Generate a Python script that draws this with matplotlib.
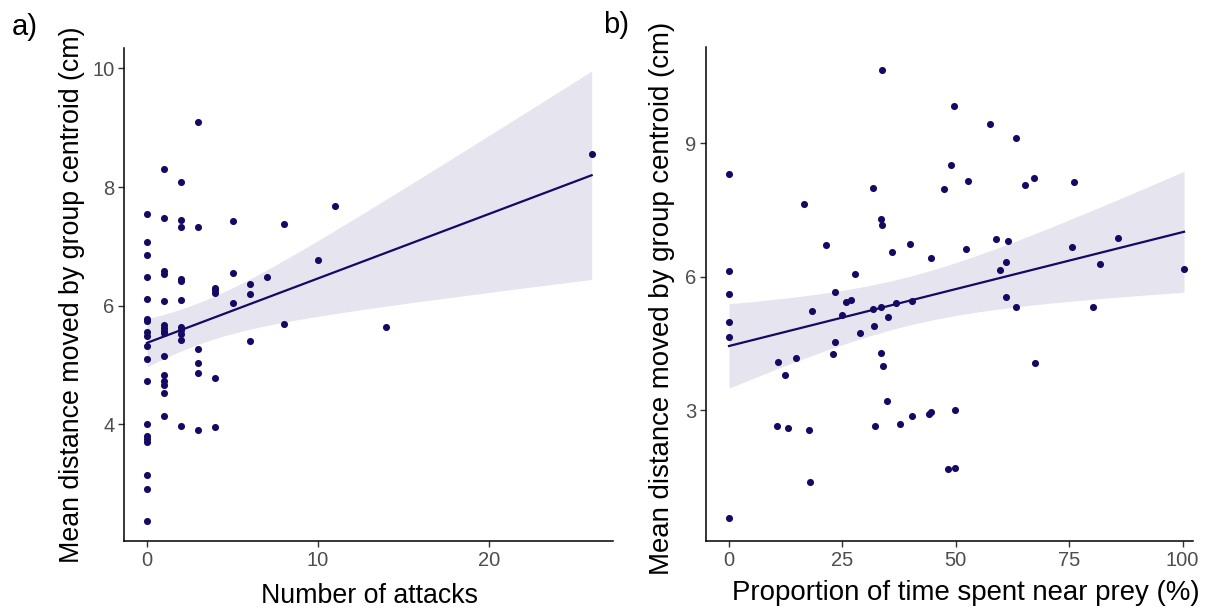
import numpy as np
import matplotlib
matplotlib.use("Agg")
import matplotlib.pyplot as plt

plt.rcParams['font.family'] = ['Liberation Sans', 'DejaVu Sans']

# ---- Panel a data: number of attacks vs mean distance ----
attacks_x = [0]*19 + [1]*15 + [2]*11 + [3]*6 + [4]*5 + [5]*3 + [6]*3 + [7] + [8]*2 + [10] + [11] + [14] + [26]
attacks_y = [7.54, 7.08, 6.86, 6.48, 6.11, 5.78, 5.75, 5.55, 5.49, 5.32, 5.10, 4.73, 4.01, 3.80, 3.76, 3.71, 3.15, 2.92, 2.38,
             8.30, 7.48, 6.59, 6.54, 6.08, 5.67, 5.63, 5.58, 5.54, 5.16, 4.84, 4.73, 4.67, 4.53, 4.15,
             8.08, 7.44, 7.32, 6.45, 6.41, 6.10, 5.64, 5.59, 5.53, 5.42, 3.98,
             9.10, 7.33, 5.27, 5.03, 4.86, 3.91,
             6.30, 6.26, 6.22, 4.78, 3.95,
             7.43, 6.56, 6.05,
             6.37, 6.20, 5.41,
             6.49,
             7.38, 5.70,
             6.77,
             7.68,
             5.64,
             8.56]

# ---- Panel b data: proportion of time near prey vs mean distance ----
prop_x = [33.7, 0, 31.75, 16.6, 33.4, 33.7, 21.4, 36.0, 0, 27.85,
          0, 0, 0, 0, 23.4, 25.8, 26.9, 18.2, 24.8, 31.8,
          33.5, 36.9, 35.1, 28.8, 31.9, 23.4, 23.0, 10.7, 14.8, 12.3,
          33.5, 34.0, 34.9, 10.65, 13.0, 17.6, 32.1, 37.6, 17.9, 49.5,
          57.5, 63.3, 49.0, 47.3, 52.6, 65.3, 67.2, 76.1, 40.0, 44.5,
          52.3, 58.9, 61.6, 61.1, 59.8, 75.5, 85.8, 81.8, 100.3, 40.4,
          61.1, 63.2, 80.3, 67.4, 40.4, 44.1, 44.6, 49.8, 48.3, 49.9]
prop_y = [10.65, 8.31, 7.99, 7.63, 7.29, 7.16, 6.72, 6.55, 6.12, 6.07,
          5.61, 4.97, 4.64, 0.56, 5.66, 5.43, 5.48, 5.23, 5.14, 5.28,
          5.31, 5.41, 5.10, 4.73, 4.89, 4.53, 4.26, 4.08, 4.17, 3.79,
          4.28, 4.00, 3.21, 2.63, 2.59, 2.54, 2.64, 2.69, 1.37, 9.84,
          9.44, 9.13, 8.52, 7.98, 8.15, 8.06, 8.22, 8.14, 6.73, 6.43,
          6.62, 6.84, 6.80, 6.33, 6.14, 6.66, 6.86, 6.29, 6.17, 5.45,
          5.54, 5.31, 5.31, 4.06, 2.87, 2.91, 2.95, 3.00, 1.67, 1.69]

# ---- Fitted lines (value at the smallest and largest x) ----
fit_a_ends = [5.375, 8.20]
fit_b_ends = [4.44, 7.01]
# Confidence band: narrowest half-width, x where it is narrowest,
# and half-width at the two ends of the line
band_a = {"center": 2.78, "min_half": 0.349, "end_half": [0.405, 1.756]}
band_b = {"center": 38.5, "min_half": 0.548, "end_half": [0.955, 1.36]}

ylabel = "Mean distance moved by group centroid (cm)"
xlabel_a = "Number of attacks"
xlabel_b = "Proportion of time spent near prey (%)"
xticks_a = [0, 10, 20]
yticks_a = [4, 6, 8, 10]
xticks_b = [0, 25, 50, 75, 100]
yticks_b = [3, 6, 9]

PT_COLOR = "#140a64"
FILL_COLOR = "#e6e4ef"
TICK_COLOR = "#4d4d4d"


def band(x, ends, bd):
    x = np.asarray(x, float)
    x0, x1 = x.min(), x.max()
    xg = np.linspace(x0, x1, 200)
    yg = ends[0] + (ends[1] - ends[0]) * (xg - x0) / (x1 - x0)
    c = bd["center"]
    h0 = bd["min_half"]
    far = x1 if abs(x1 - c) >= abs(x0 - c) else x0
    far_h = bd["end_half"][1] if far == x1 else bd["end_half"][0]
    k2 = (far_h ** 2 - h0 ** 2) / (far - c) ** 2
    h = np.sqrt(h0 ** 2 + k2 * (xg - c) ** 2)
    return xg, yg, yg - h, yg + h


def style(ax, xticks, yticks, xlim, ylim):
    ax.set_xlim(*xlim)
    ax.set_ylim(*ylim)
    ax.set_xticks(xticks)
    ax.set_yticks(yticks)
    for side in ("top", "right"):
        ax.spines[side].set_visible(False)
    for side in ("left", "bottom"):
        ax.spines[side].set_linewidth(1.1)
        ax.spines[side].set_color("black")
    ax.tick_params(axis="both", length=4, width=1.0, color="#333333",
                   labelcolor=TICK_COLOR, labelsize=14.5, pad=3)


fig = plt.figure(figsize=(12.27, 6.12), dpi=100)
ax1 = fig.add_axes([0.1011, 0.1155, 0.3985, 0.8056])
ax2 = fig.add_axes([0.5754, 0.1155, 0.3966, 0.8072])

for ax, x, y, ends, bd in ((ax1, attacks_x, attacks_y, fit_a_ends, band_a),
                           (ax2, prop_x, prop_y, fit_b_ends, band_b)):
    xg, yg, lo, hi = band(x, ends, bd)
    ax.fill_between(xg, lo, hi, color=FILL_COLOR, linewidth=0, zorder=1)
    ax.plot(xg, yg, color=PT_COLOR, linewidth=1.6, zorder=2)
    ax.scatter(x, y, s=26, color=PT_COLOR, linewidths=0, zorder=3)

style(ax1, xticks_a, yticks_a, (-1.345, 27.25), (2.03, 10.34))
style(ax2, xticks_b, yticks_b, (-5.07, 102.2), (0.046, 11.16))

# axis titles
W, H = 1227.0, 612.0
fig.text(369.5 / W, 1 - 603.3 / H, xlabel_a, fontsize=19.3,
         ha="center", va="baseline")
fig.text(965.5 / W, 1 - 600.5 / H, xlabel_b, fontsize=19.9,
         ha="center", va="baseline")
fig.text(72 / W, 1 - 294.8 / H, ylabel, fontsize=19.3, rotation=90,
         ha="center", va="center")
fig.text(662 / W, 1 - 298 / H, ylabel, fontsize=19.9, rotation=90,
         ha="center", va="center")

fig.text(11.7 / W, 1 - 35 / H, "a)", fontsize=21, ha="left", va="baseline")
fig.text(603.3 / W, 1 - 33.3 / H, "b)", fontsize=21, ha="left", va="baseline")

fig.savefig("out.png", dpi=100)
